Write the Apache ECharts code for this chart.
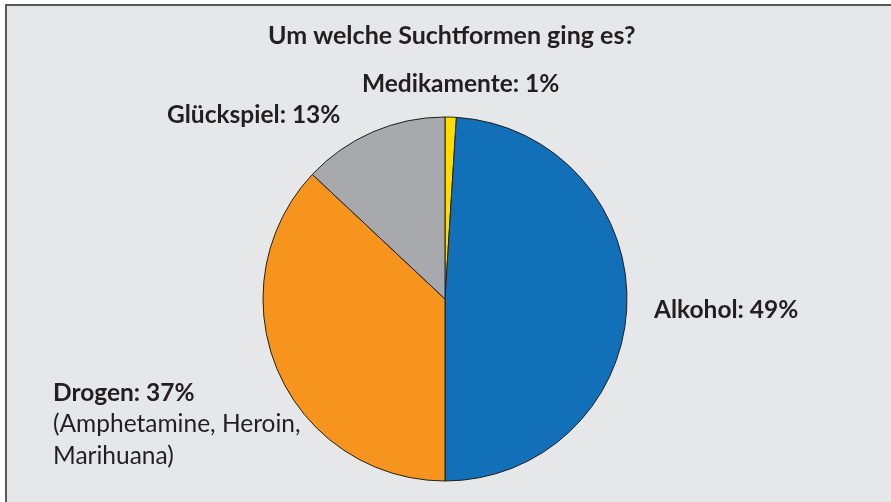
<!DOCTYPE html>
<html>
<head>
<meta charset="utf-8">
<script src="https://cdn.jsdelivr.net/npm/echarts@6/dist/echarts.min.js"></script>
<style>
  html, body { margin: 0; padding: 0; background: #fff; }
  #chartDiv { width: 891px; height: 502px; }
</style>
</head>
<body>
<div id="chartDiv"></div>
<script>
// 数据
var categories = ['Medikamente', 'Alkohol', 'Drogen', 'Glückspiel'];
var shares = [1, 49, 37, 13];
var notes = ['', '', '(Amphetamine, Heroin,\nMarihuana)', ''];
var colors = ['#ffdd00', '#1170b8', '#f7941d', '#a7a9ac'];
// label anchors (left x, centre y of first line)
var labelPos = [[362, 84], [654, 310], [53, 393], [167, 115]];

var myChart = echarts.init(document.getElementById('chartDiv'));
var fontFam = 'Lato, "Open Sans", sans-serif';
var lh = 31.5;

var pieData = [];
for (var i = 0; i < categories.length; i++) {
    pieData.push({ name: categories[i], value: shares[i], itemStyle: { color: colors[i] } });
}

var option = {
    backgroundColor: '#ffffff',
    animation: false,
    graphic: [{
        type: 'rect',
        shape: { x: 6, y: 5, width: 900, height: 520 },
        style: { fill: '#e6e7e8', stroke: '#58595b', lineWidth: 2 },
        z: -10
    }, {
        type: 'text',
        x: 268,
        y: 36,
        style: {
            text: 'Um welche Suchtformen ging es?',
            font: 'bold 25px ' + fontFam,
            fill: '#231f20',
            verticalAlign: 'middle'
        }
    }],
    series: [{
        type: 'pie',
        center: [445, 299],
        radius: 182,
        startAngle: 90,
        clockwise: true,
        data: pieData,
        itemStyle: { borderColor: '#231f20', borderWidth: 1 },
        labelLine: { show: false },
        label: {
            show: true,
            position: 'outside',
            overflow: 'none',
            fontFamily: fontFam,
            color: '#231f20',
            formatter: function (p) {
                var s = '{b|' + p.name + ': ' + p.value + '%}';
                var n = notes[p.dataIndex];
                if (n) {
                    s += '\n' + n.split('\n').map(function (t) { return '{r|' + t + '}'; }).join('\n');
                }
                return s;
            },
            rich: {
                b: { fontWeight: 'bold', fontSize: 24.5, lineHeight: lh, fontFamily: fontFam, color: '#231f20' },
                r: { fontWeight: 'normal', fontSize: 24.5, lineHeight: lh, fontFamily: fontFam, color: '#231f20' }
            }
        },
        labelLayout: function (params) {
            var p = labelPos[params.dataIndex];
            return { x: p[0], y: p[1] - lh / 2, align: 'left', verticalAlign: 'top' };
        }
    }]
};
myChart.setOption(option);
</script>
</body>
</html>
